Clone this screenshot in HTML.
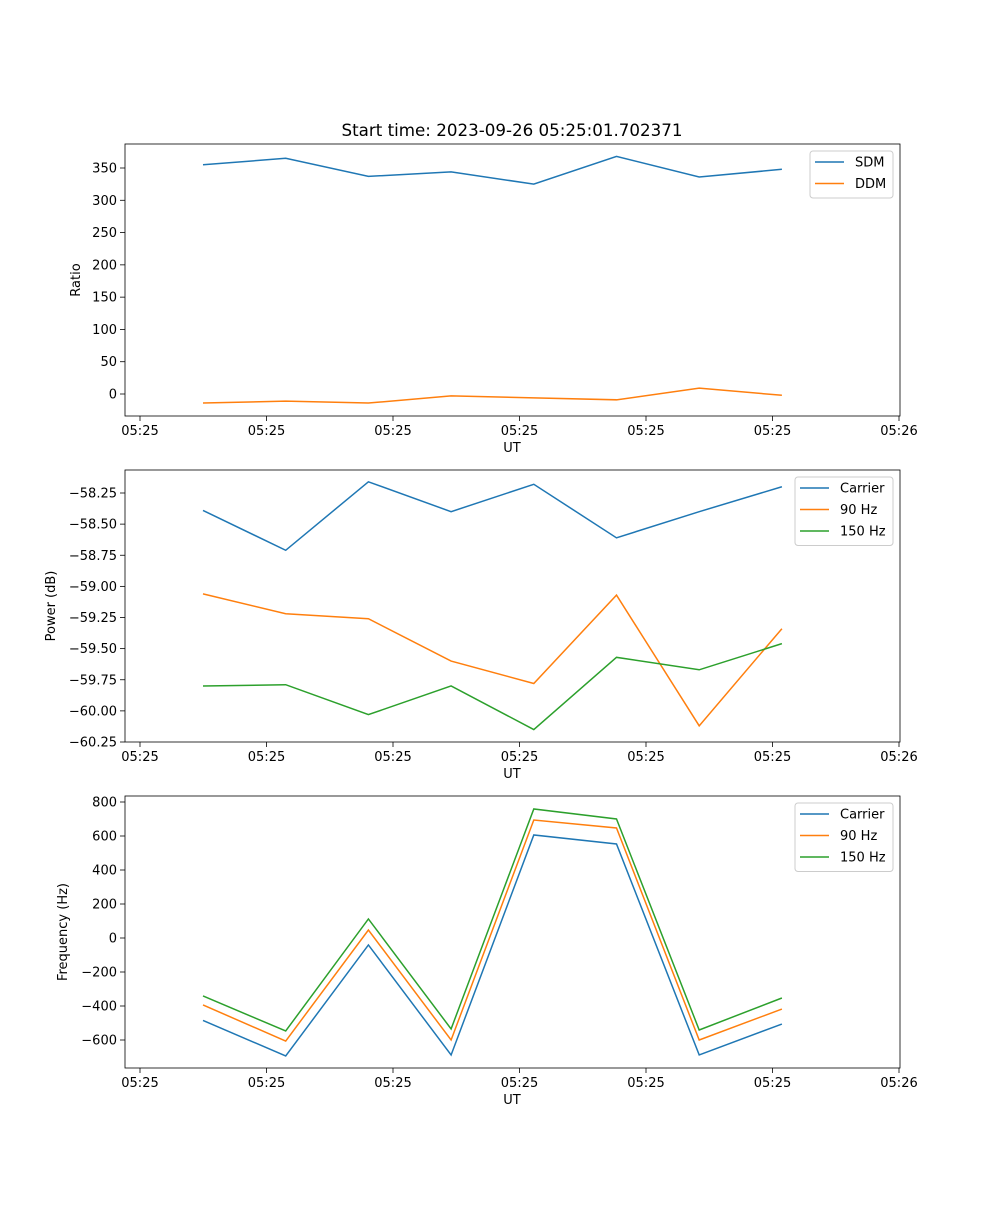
<!DOCTYPE html>
<html><head><meta charset="utf-8"><style>
body{margin:0;background:#fff}
svg{font-family:"DejaVu Sans","Liberation Sans",sans-serif;font-size:13px}
</style></head><body>
<svg id="fig" width="1000" height="1200" xmlns="http://www.w3.org/2000/svg">
<text x="512" y="136" text-anchor="middle" font-size="16.7">Start time: 2023-09-26 05:25:01.702371</text>
</svg>
<script>
const xTickLabels=["05:25","05:25","05:25","05:25","05:25","05:25","05:26"];
const sdm=[355,365,337,344,325,368,336,348];
const ddm=[-14,-11,-14,-3,-6,-9,9,-2];
const powCarrier=[-58.39,-58.71,-58.16,-58.40,-58.18,-58.61,-58.40,-58.20];
const pow90=[-59.06,-59.22,-59.26,-59.60,-59.78,-59.07,-60.12,-59.34];
const pow150=[-59.80,-59.79,-60.03,-59.80,-60.15,-59.57,-59.67,-59.46];
const freqCarrier=[-485,-694,-41,-688,606,553,-688,-506];
const freq90=[-394,-606,47,-600,694,647,-600,-418];
const freq150=[-341,-547,112,-535,759,700,-541,-353];
const ratioTicks=[0,50,100,150,200,250,300,350];
const powTicks=[-60.25,-60.00,-59.75,-59.50,-59.25,-59.00,-58.75,-58.50,-58.25];
const freqTicks=[-600,-400,-200,0,200,400,600,800];

const svg=document.getElementById('fig');
const NS="http://www.w3.org/2000/svg";
function mk(tag,attrs,parent){const e=document.createElementNS(NS,tag);for(const k in attrs)e.setAttribute(k,attrs[k]);(parent||svg).appendChild(e);return e;}
const X0=125,X1=900;
const xOf=i=>203+i*82.7;
const xTickPos=k=>140+k*126.5;
const colors=["#1f77b4","#ff7f0e","#2ca02c"];
function panel(top,bot,ticks,v0,p0,v1,p1,fmt,series,names,ylabel,ylx,legend,pname){
  const yOf=v=>p0+(v-v0)*(p1-p0)/(v1-v0);
  const g=mk('g',{});
  
  
  ticks.forEach(t=>{const y=yOf(t);
    const l=mk('line',{x1:X0-5,x2:X0,y1:y,y2:y,stroke:'#000','stroke-width':0.8},g);
    
    const tx=mk('text',{x:X0-8,y:y+4.5,'text-anchor':'end'},g);tx.textContent=fmt(t);
    });
  xTickLabels.forEach((s,k)=>{const x=xTickPos(k);
    const l=mk('line',{x1:x,x2:x,y1:bot,y2:bot+5,stroke:'#000','stroke-width':0.8},g);
    
    const tx=mk('text',{x:x,y:bot+19,'text-anchor':'middle'},g);tx.textContent=s;
    });
  const xl=mk('text',{x:512,y:bot+36,'text-anchor':'middle'},g);xl.textContent='UT';
  
  const yl=mk('text',{x:ylx,y:(top+bot)/2,'text-anchor':'middle',transform:`rotate(-90 ${ylx} ${(top+bot)/2})`},g);yl.textContent=ylabel;
  
  series.forEach((s,j)=>{const pl=mk('polyline',{points:s.map((v,i)=>xOf(i)+','+yOf(v)).join(' '),fill:'none',stroke:colors[j],'stroke-width':1.5},g);
    });
  const fr=mk('rect',{x:X0,y:top,width:X1-X0,height:bot-top,fill:'none',stroke:'#000','stroke-width':0.8},g);
  
  const lg=mk('g',{},g);
  
  const lw=legend.w,lx=893-lw,ly=top+7;
  mk('rect',{x:lx,y:ly,width:lw,height:names.length*21.5+4,rx:3,fill:'#fff',stroke:'#ccc','stroke-width':1},lg);
  names.forEach((n,j)=>{const y=ly+11+j*21.5;
    mk('line',{x1:lx+5,x2:lx+34,y1:y,y2:y,stroke:colors[j],'stroke-width':1.5},lg);
    const t=mk('text',{x:lx+45,y:y+4.5},lg);t.textContent=n;
    });
}
panel(144,416,ratioTicks,0,394,350,168,t=>String(t),[sdm,ddm],["SDM","DDM"],"Ratio",80,{w:83},'ratio-panel');
panel(470,742,powTicks,-58.25,493,-60.25,742,t=>t.toFixed(2).replace('-','\u2212'),[powCarrier,pow90,pow150],["Carrier","90 Hz","150 Hz"],"Power (dB)",55,{w:98},'power-panel');
panel(796,1068,freqTicks,800,802,-600,1040,t=>String(t).replace('-','\u2212'),[freqCarrier,freq90,freq150],["Carrier","90 Hz","150 Hz"],"Frequency (Hz)",67,{w:98},'frequency-panel');
</script>
</body></html>
